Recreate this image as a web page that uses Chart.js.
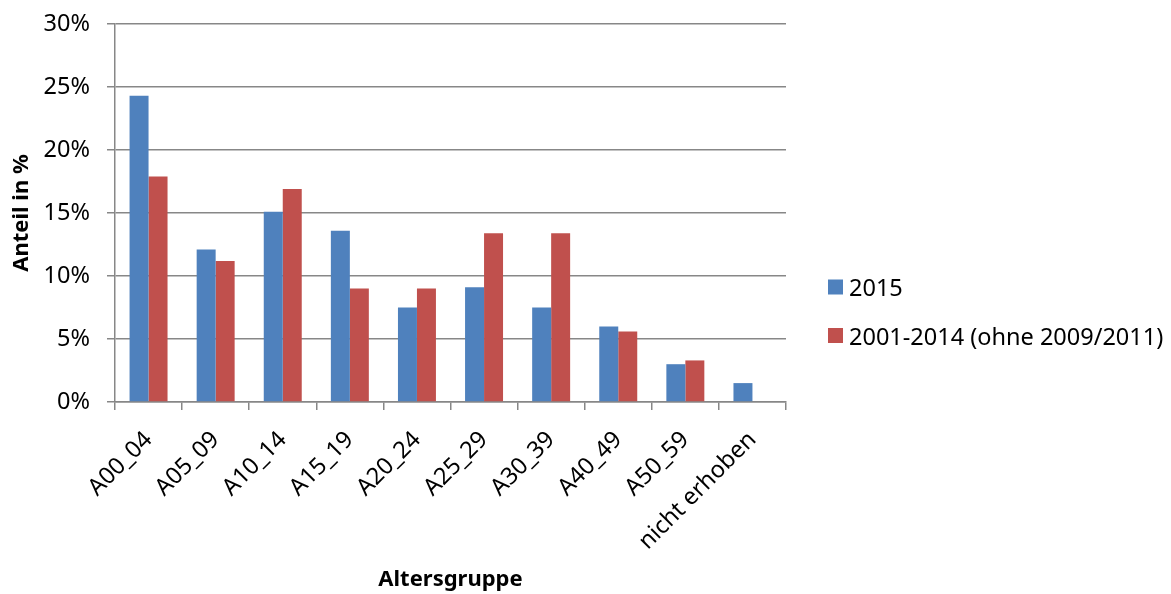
<!DOCTYPE html>
<html lang="de">
<head>
<meta charset="utf-8">
<title>Anteil nach Altersgruppe</title>
<script src="https://cdn.jsdelivr.net/npm/chart.js@4.4.1/dist/chart.umd.min.js"></script>
<style>
  html, body { margin: 0; padding: 0; background: #ffffff; }
  #wrap { width: 1171px; height: 594px; }
</style>
</head>
<body>
<div id="wrap"><canvas id="chart" width="1171" height="594"></canvas></div>
<script>
// Altersgruppen (x-Achse)
const categories = ['A00_04', 'A05_09', 'A10_14', 'A15_19', 'A20_24', 'A25_29', 'A30_39', 'A40_49', 'A50_59', 'nicht erhoben'];

// Anteile in Prozent
const values2015 = [24.3, 12.1, 15.1, 13.6, 7.5, 9.1, 7.5, 6.0, 3.0, 1.5];
const valuesEarlier = [17.9, 11.2, 16.9, 9.0, 9.0, 13.4, 13.4, 5.6, 3.3, null];

const seriesLabels = ['2015', '2001-2014 (ohne 2009/2011)'];
const seriesColors = ['#4F81BD', '#C0504D'];

// y-Achse: 0 % bis 30 % in 5er-Schritten
const yTicks = [0, 5, 10, 15, 20, 25, 30];

const FONT = '"Noto Sans", "DejaVu Sans", sans-serif';
Chart.defaults.color = '#000000';
Chart.defaults.font.family = FONT;

const GRID = '#878787';

// Legende rechts neben dem Diagramm, aus den Datensätzen gezeichnet
const sideLegend = {
  id: 'sideLegend',
  afterDraw(chart) {
    const ctx = chart.ctx;
    ctx.save();
    ctx.font = '23.5px ' + FONT;
    ctx.textAlign = 'left';
    ctx.textBaseline = 'alphabetic';
    chart.data.datasets.forEach((ds, i) => {
      const boxTop = 279.5 + i * 48.5;
      ctx.fillStyle = ds.backgroundColor;
      ctx.fillRect(828, boxTop, 15, 15);
      ctx.fillStyle = '#000000';
      ctx.fillText(ds.label, 849, boxTop + 16.5);
    });
    ctx.restore();
  }
};

new Chart(document.getElementById('chart'), {
  type: 'bar',
  data: {
    labels: categories,
    datasets: [
      {
        label: seriesLabels[0],
        data: values2015,
        backgroundColor: seriesColors[0],
        categoryPercentage: 0.566,
        barPercentage: 1.0
      },
      {
        label: seriesLabels[1],
        data: valuesEarlier,
        backgroundColor: seriesColors[1],
        categoryPercentage: 0.566,
        barPercentage: 1.0
      }
    ]
  },
  options: {
    responsive: false,
    devicePixelRatio: 1,
    animation: false,
    layout: { padding: { left: 0, right: 385, top: 24, bottom: 0 } },
    plugins: {
      legend: { display: false },
      tooltip: { enabled: false }
    },
    scales: {
      x: {
        offset: true,
        grid: {
          offset: true,
          drawOnChartArea: false,
          drawTicks: true,
          tickLength: 8,
          color: GRID,
          lineWidth: 1.5
        },
        border: { display: true, color: GRID, width: 1.5 },
        ticks: {
          minRotation: 45,
          maxRotation: 45,
          autoSkip: false,
          padding: 16,
          font: { size: 23.5, family: FONT },
          color: '#000000'
        },
        title: {
          display: true,
          text: 'Altersgruppe',
          font: { size: 22, weight: 'bold', family: FONT },
          color: '#000000',
          padding: { top: 0, bottom: 1 }
        },
        afterFit(scale) { scale.height = 192; }
      },
      y: {
        min: 0,
        max: 30,
        afterBuildTicks(scale) { scale.ticks = yTicks.map(v => ({ value: v })); },
        grid: {
          drawTicks: true,
          tickLength: 8,
          color: GRID,
          lineWidth: 1.5
        },
        border: { display: true, color: GRID, width: 1.5 },
        ticks: {
          padding: 17,
          font: { size: 23.5, family: FONT },
          color: '#000000',
          callback: v => v + '%'
        },
        title: {
          display: true,
          text: 'Anteil in %',
          font: { size: 22, weight: 'bold', family: FONT },
          color: '#000000',
          padding: { top: 9, bottom: 0 }
        },
        afterFit(scale) {
          scale.width = 115;
          scale.paddingTop = 0;
          scale.paddingBottom = 0;
        }
      }
    }
  },
  plugins: [sideLegend]
});
</script>
</body>
</html>
